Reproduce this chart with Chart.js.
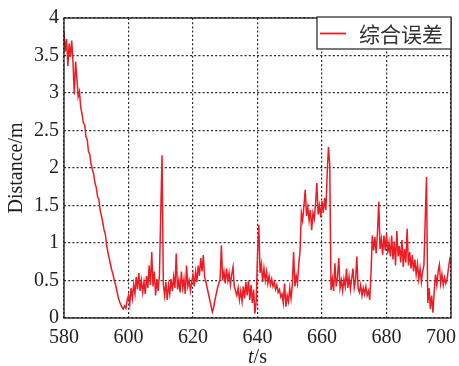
<!DOCTYPE html>
<html>
<head>
<meta charset="utf-8">
<script src="https://cdn.jsdelivr.net/npm/chart.js@4.4.1/dist/chart.umd.min.js"></script>
<style>
  html, body { margin: 0; padding: 0; background: #fff; }
  #wrap { width: 459px; height: 366px; }
</style>
</head>
<body>
<div id="wrap"><canvas id="errChart" width="459" height="366"></canvas></div>
<script>
// error samples, one every tStep seconds starting at tStart
const tStart = 580;
const tStep = 0.4;
const errorValues = [
    3.82, 3.55, 3.72, 3.36, 3.66, 3.48, 3.70, 3.40, 2.98, 3.42,
    3.20, 2.95, 3.02, 2.80, 2.72, 2.60, 2.58, 2.42, 2.38, 2.22,
    2.18, 2.05, 1.98, 1.92, 1.80, 1.74, 1.62, 1.58, 1.44, 1.36,
    1.28, 1.18, 1.12, 0.98, 0.88, 0.80, 0.72, 0.64, 0.58, 0.50,
    0.44, 0.36, 0.28, 0.22, 0.18, 0.14, 0.12, 0.16, 0.13, 0.24,
    // 600 s
    0.30, 0.18, 0.40, 0.26, 0.45, 0.32, 0.55, 0.38, 0.60, 0.36,
    0.50, 0.34, 0.48, 0.32, 0.56, 0.40, 0.70, 0.44, 0.88, 0.42,
    0.62, 0.30, 0.52, 0.36, 0.58, 1.40, 2.17, 0.45, 0.30, 0.48,
    0.24, 0.44, 0.32, 0.52, 0.36, 0.55, 0.40, 0.86, 0.38, 0.50,
    0.34, 0.62, 0.40, 0.52, 0.32, 0.70, 0.42, 0.50, 0.36, 0.48,
    // 620 s
    0.58, 0.42, 0.62, 0.48, 0.70, 0.56, 0.80, 0.62, 0.84, 0.55,
    0.48, 0.40, 0.32, 0.24, 0.16, 0.08, 0.14, 0.24, 0.32, 0.40,
    0.46, 0.52, 0.97, 0.50, 0.62, 0.46, 0.66, 0.50, 0.60, 0.44,
    0.58, 0.68, 0.42, 0.36, 0.30, 0.40, 0.24, 0.36, 0.22, 0.42,
    0.26, 0.48, 0.30, 0.50, 0.24, 0.44, 0.20, 0.38, 0.06, 0.22,
    // 640 s
    0.85, 1.24, 0.60, 0.72, 0.48, 0.66, 0.50, 0.62, 0.46, 0.56,
    0.44, 0.52, 0.42, 0.48, 0.38, 0.44, 0.34, 0.38, 0.28, 0.32,
    0.20, 0.46, 0.15, 0.30, 0.22, 0.40, 0.26, 0.44, 0.88, 0.42,
    0.56, 0.46, 0.72, 0.90, 1.40, 1.30, 1.50, 1.71, 1.36, 1.48,
    1.30, 1.44, 1.17, 1.40, 1.32, 1.52, 1.80, 1.38, 1.50, 1.34,
    // 660 s
    1.56, 1.40, 1.60, 1.44, 1.92, 2.28, 2.05, 0.37, 0.52, 0.36,
    0.73, 0.42, 0.54, 0.80, 0.40, 0.50, 0.36, 0.52, 0.42, 0.66,
    0.40, 0.55, 0.38, 0.52, 0.66, 0.40, 0.50, 0.82, 0.40, 0.34,
    0.44, 0.30, 0.40, 0.32, 0.42, 0.30, 0.36, 0.24, 0.60, 1.10,
    0.90, 1.08, 0.86, 1.14, 1.55, 0.92, 1.05, 0.84, 1.10, 0.90,
    // 680 s
    1.12, 0.86, 1.00, 0.82, 1.10, 0.78, 1.02, 0.70, 1.16, 0.82,
    0.96, 0.74, 1.04, 0.68, 0.92, 0.74, 1.19, 0.70, 0.88, 0.66,
    0.84, 0.62, 0.78, 0.58, 0.72, 0.52, 0.66, 0.48, 0.62, 0.70,
    1.30, 1.88, 0.20, 0.40, 0.12, 0.30, 0.07, 0.36, 0.58, 0.44,
    0.62, 0.71, 0.46, 0.58, 0.44, 0.54, 0.46, 0.52, 0.66, 0.78,
    0.72
];
const xTicks = [580, 600, 620, 640, 660, 680, 700];
const yTicks = [0, 0.5, 1, 1.5, 2, 2.5, 3, 3.5, 4];
const seriesLabel = "综合误差";

const points = errorValues.map((v, i) => ({ x: +(tStart + i * tStep).toFixed(1), y: v }));

const lineRed = "#ec1c24";
const serif = "'Liberation Serif', 'Times New Roman', serif";
const gridStyle = { color: "#2a2a2a", lineWidth: 1.2, drawTicks: false };
const dash = { dash: [2, 2.2] };

// solid frame, boxed legend and the mixed-style x title
const framePlugin = {
    id: "frame",
    afterDraw(chart) {
        const { ctx, chartArea: a } = chart;
        ctx.save();
        ctx.strokeStyle = "#1a1a1a";
        ctx.lineWidth = 1.3;
        ctx.strokeRect(a.left, a.top, a.right - a.left, a.bottom - a.top);

        const ds = chart.data.datasets[0];
        const w = 134, h = 32;
        const bx = a.right - w, by = a.top - 1;
        ctx.fillStyle = "#fff";
        ctx.fillRect(bx, by, w, h);
        ctx.strokeStyle = "#333";
        ctx.strokeRect(bx, by, w, h);
        ctx.strokeStyle = ds.borderColor;
        ctx.lineWidth = 1.8;
        ctx.beginPath();
        ctx.moveTo(bx + 3, by + 16.5);
        ctx.lineTo(bx + 29, by + 16.5);
        ctx.stroke();
        ctx.fillStyle = "#333";
        ctx.font = "21px 'Noto Sans CJK SC'";
        ctx.textBaseline = "middle";
        ctx.fillText(ds.label, bx + 42, by + 17);

        // t/s with italic t
        const cx = (a.left + a.right) / 2;
        const ty = 358;
        ctx.fillStyle = "#222";
        ctx.font = "italic 20px " + serif;
        const wt = ctx.measureText("t").width;
        ctx.font = "20px " + serif;
        const ws = ctx.measureText("/s").width;
        const x0 = cx - (wt + ws) / 2;
        ctx.textAlign = "left";
        ctx.font = "italic 20px " + serif;
        ctx.fillText("t", x0, ty);
        ctx.font = "20px " + serif;
        ctx.fillText("/s", x0 + wt, ty);
        ctx.restore();
    },
};

new Chart(document.getElementById("errChart"), {
    type: "line",
    data: {
        datasets: [
            {
                label: seriesLabel,
                data: points,
                borderColor: lineRed,
                borderWidth: 1.5,
                pointRadius: 0,
                tension: 0,
            },
        ],
    },
    options: {
        responsive: false,
        animation: false,
        layout: { padding: { top: 18, right: 8, left: 0, bottom: 0 } },
        plugins: { legend: { display: false }, tooltip: { enabled: false } },
        scales: {
            x: {
                type: "linear",
                min: 580,
                max: 700,
                afterBuildTicks: (s) => { s.ticks = xTicks.map((v) => ({ value: v })); },
                afterFit: (s) => { s.height = 48; s.paddingRight = 8; },
                grid: gridStyle,
                border: { display: false, ...dash },
                ticks: {
                    color: "#222",
                    font: { family: serif, size: 20 },
                    padding: 8,
                    maxRotation: 0,
                    autoSkip: false,
                    // keep the last label inside the canvas
                    callback: (v) => (v === 700 ? "700\u2007\u2007" : String(v)),
                },
            },
            y: {
                min: 0,
                max: 4,
                afterBuildTicks: (s) => { s.ticks = yTicks.map((v) => ({ value: v })); },
                afterFit: (s) => { s.width = 64; },
                grid: gridStyle,
                border: { display: false, ...dash },
                ticks: {
                    color: "#222",
                    font: { family: serif, size: 20 },
                    padding: 5,
                    callback: (v) => String(v),
                },
                title: {
                    display: true,
                    text: "Distance/m",
                    color: "#222",
                    font: { family: serif, size: 20 },
                    padding: { top: 5, bottom: 0 },
                },
            },
        },
    },
    plugins: [framePlugin],
});
</script>
</body>
</html>
